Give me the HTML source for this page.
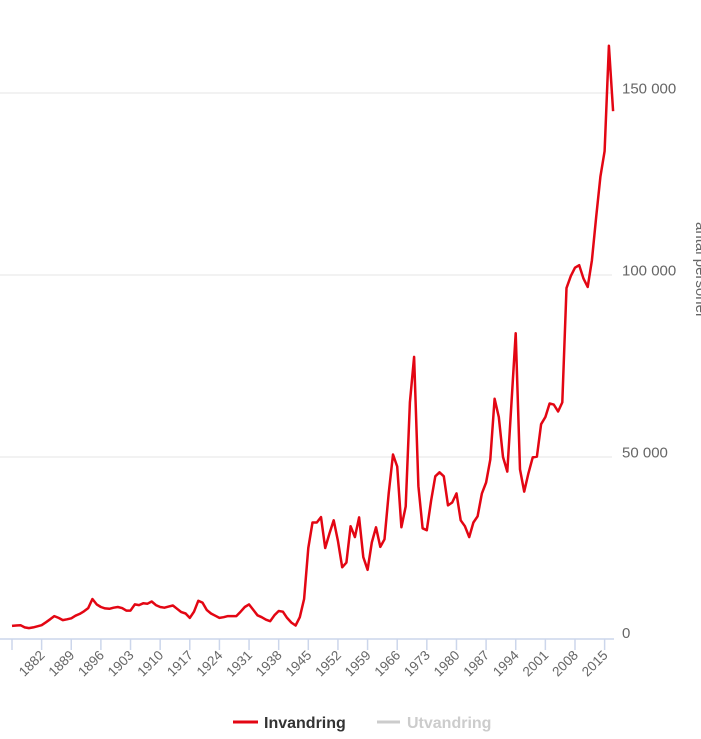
<!DOCTYPE html>
<html><head><meta charset="utf-8"><style>
html,body{margin:0;padding:0;background:#fff;overflow:hidden;}
svg{display:block;font-family:"Liberation Sans",sans-serif;}
</style></head><body>
<svg id="chart" width="701" height="739" viewBox="0 0 701 739" xmlns="http://www.w3.org/2000/svg">
<g id="grid"></g>
<g id="xaxis"></g>
<g id="yaxis"></g>
<text transform="translate(696,270) rotate(90)" text-anchor="middle" font-size="15" fill="#666">antal personer</text>
<g id="series"></g>
<g>
<g>
<line x1="233" y1="722" x2="258" y2="722" stroke="#e30613" stroke-width="3"/>
<text x="264" y="728" font-size="16" font-weight="bold" fill="#333">Invandring</text>
</g>
<g>
<line x1="377" y1="722" x2="400" y2="722" stroke="#ccc" stroke-width="3"/>
<text x="407" y="728" font-size="16" font-weight="bold" fill="#ccc">Utvandring</text>
</g>
</g>
</svg>
<script>
const startYear = 1875;
const immigration = [3.6,3.7,3.8,3.2,3.0,3.2,3.5,3.8,4.6,5.4,6.3,5.8,5.2,5.4,5.7,6.4,6.9,7.6,8.5,11,9.5,8.8,8.4,8.3,8.6,8.8,8.5,7.8,7.8,9.5,9.3,9.8,9.7,10.3,9.3,8.8,8.6,8.9,9.2,8.3,7.4,7.0,5.8,7.5,10.5,10.0,8.0,7.0,6.4,5.8,6.0,6.3,6.3,6.3,7.5,8.8,9.5,8.0,6.5,6.0,5.3,4.9,6.5,7.7,7.5,5.8,4.5,3.7,6.0,11,25,32,32,33.5,25,29,32.6,27,19.7,21,31,28,33.4,22.5,19,26.5,30.7,25.3,27.4,40,50.7,47.4,30.7,36.4,65,77.5,42,30.4,29.9,38,44.7,45.8,44.7,36.7,37.5,40,32.6,31,28,32,33.7,40,43,49.3,66,61,50,46,65,84,46.6,40.5,45.5,49.9,50.1,59,61,64.7,64.4,62.5,65,96.4,99.7,102,102.7,99,96.7,104,116,127,134,163,145];
const yTicks = [0,50000,100000,150000];
const yTickLabels = ["0","50 000","100 000","150 000"];
const xTickYears = [1875,1882,1889,1896,1903,1910,1917,1924,1931,1938,1945,1952,1959,1966,1973,1980,1987,1994,2001,2008,2015];
const xTickLabels = ["","1882","1889","1896","1903","1910","1917","1924","1931","1938","1945","1952","1959","1966","1973","1980","1987","1994","2001","2008","2015"];

const NS="http://www.w3.org/2000/svg";
function x(year){return 12+(year-1875)*4.233;}
function y(v){return 639-v*0.003640;}
function mk(tag,attrs,parent){const e=document.createElementNS(NS,tag);for(const k in attrs)e.setAttribute(k,attrs[k]);parent.appendChild(e);return e;}

const grid=document.getElementById('grid');
const yax=document.getElementById('yaxis');
yTicks.forEach((t,i)=>{
  if(t>0){
    const g=mk('line',{x1:0,x2:612,y1:y(t),y2:y(t),stroke:'#e6e6e6','stroke-width':1},grid);
    
    
  }
  const lb=mk('text',{x:622,y:y(t)+0.5,'font-size':15,fill:'#666'},yax);
  
  
  lb.textContent=yTickLabels[i];
});
document.querySelectorAll('#yaxis text')[0].setAttribute('y',y(0)-1);

const xax=document.getElementById('xaxis');
const axl=mk('line',{x1:0,x2:614,y1:639,y2:639,stroke:'#ccd6eb','stroke-width':1.5},xax);


xTickYears.forEach((yr,i)=>{
  const tk=mk('line',{x1:x(yr),x2:x(yr),y1:639,y2:650,stroke:'#ccd6eb','stroke-width':1.5},xax);
  
  
  if(xTickLabels[i]){
    const tx=x(yr)+4, ty=656;
    const lb=mk('text',{x:tx,y:ty,'font-size':13.5,fill:'#666','text-anchor':'end',transform:`rotate(-45 ${tx} ${ty})`},xax);
    
    
    lb.textContent=xTickLabels[i];
  }
});

const pts=immigration.map((v,i)=>x(startYear+i).toFixed(1)+','+y(v*1000).toFixed(1)).join(' ');
const pl=mk('polyline',{points:pts,fill:'none',stroke:'#e30613','stroke-width':2.5,'stroke-linejoin':'round'},document.getElementById('series'));


</script>
</body></html>
